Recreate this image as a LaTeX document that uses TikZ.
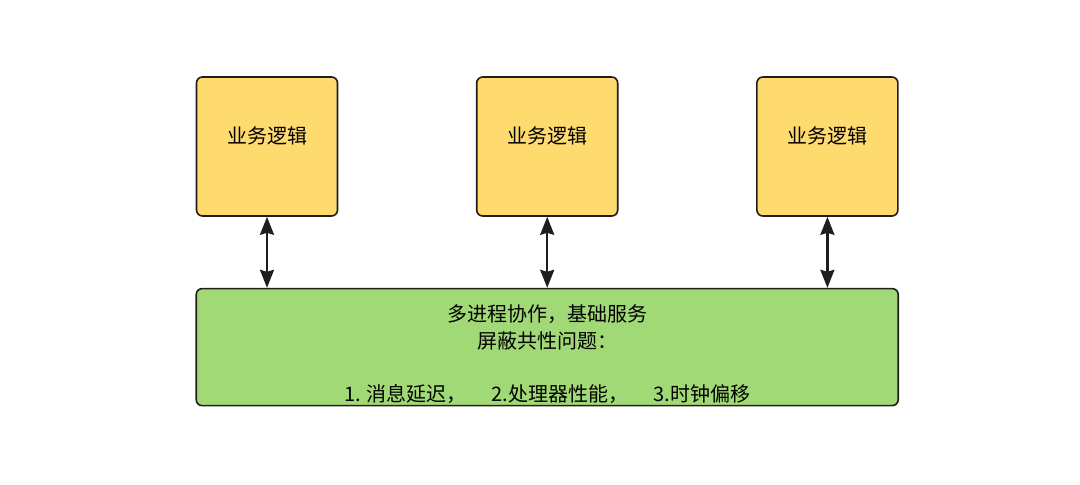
\documentclass[tikz,border=0pt]{standalone}
\usepackage{fontspec}
\setmainfont{Noto Sans CJK SC}
\usetikzlibrary{arrows.meta,positioning}
\definecolor{bizyellow}{HTML}{FFDA6F}
\definecolor{basegreen}{HTML}{A2D977}
\definecolor{edgegray}{HTML}{1E1E1E}

\begin{document}
\begin{tikzpicture}[<->,>={Stealth[length=9pt,width=7pt,inset=1pt]},
    node distance=68.8pt,
    biz node/.style={rectangle,draw=edgegray,line width=0.8pt,fill=bizyellow,rounded corners=3pt,
      minimum width=70.5pt,minimum height=69.5pt,font=\fontsize{10pt}{12pt}\selectfont,text depth=11pt},
    base node/.style={rectangle,draw=edgegray,line width=0.8pt,fill=basegreen,rounded corners=3pt,
      minimum width=351pt,minimum height=58.5pt},
    link/.style={line width=1.1pt,draw=edgegray}]

  \useasboundingbox (0,0) rectangle (540pt,-242pt);

  \node[biz node]               (b1) at (133.5pt,-73.25pt) {业务逻辑};
  \node[biz node]               (b2) [right=of b1] {业务逻辑};
  \node[biz node]               (b3) [right=of b2] {业务逻辑};
  \node[base node]              (base) [below=35.5pt of b2] {};
  \node[align=center,font=\fontsize{10pt}{13.25pt}\selectfont]
                                (note) at ([yshift=-3.5pt]base.center)
    {多进程协作，基础服务\\屏蔽共性问题：\\ \\1. 消息延迟，\hspace{1.25em}2.处理器性能，\hspace{1.25em}3.时钟偏移};

  \draw[link] (b1.south) -- (b1.south |- base.north);
  \draw[link] (b2.south) -- (b2.south |- base.north);
  \draw[link] (b3.south) -- (b3.south |- base.north);

\end{tikzpicture}
\end{document}
